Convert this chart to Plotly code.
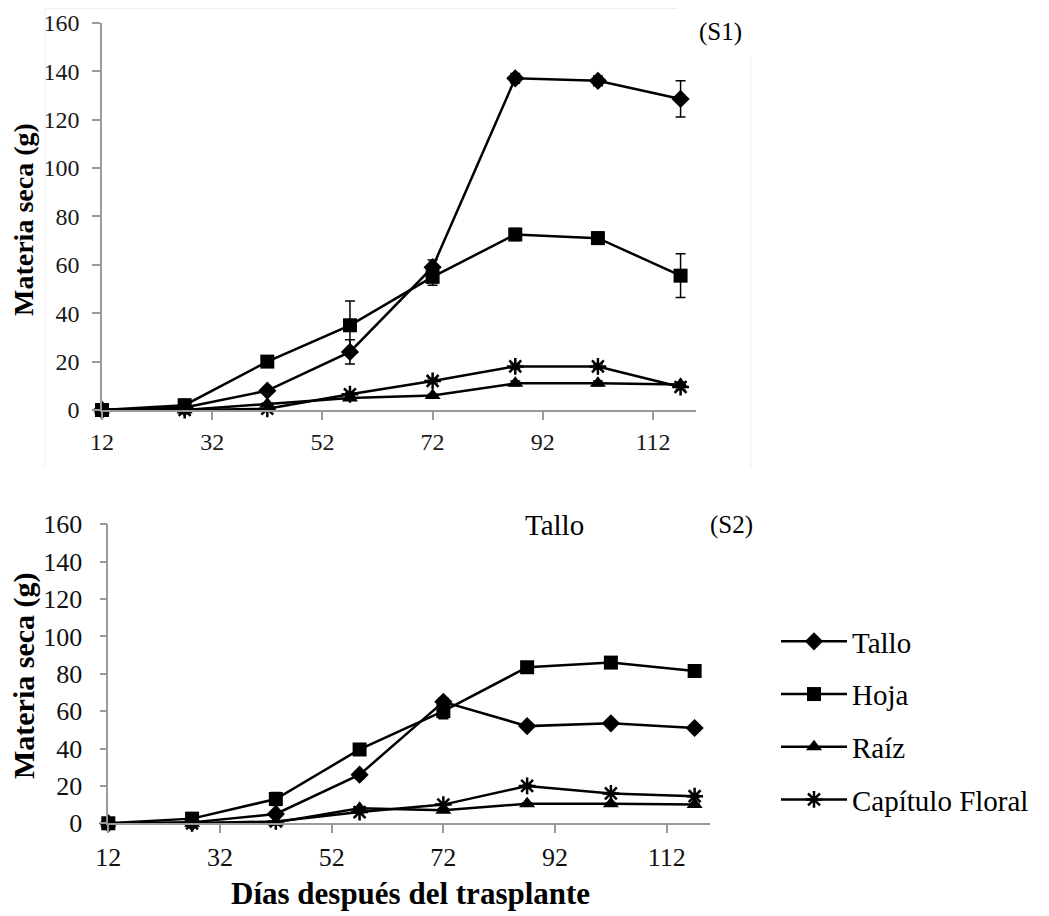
import plotly.graph_objects as go

# ---------------- data ----------------
days = [12, 27, 42, 57, 72, 87, 102, 117]
series_names = ["Tallo", "Hoja", "Raíz", "Capítulo Floral"]

# Panel S1
tallo_s1 = [0, 1, 8, 24, 59, 137, 136, 128.5]
hoja_s1 = [0, 2, 20, 35, 55, 72.5, 71, 55.5]
raiz_s1 = [0, 0, 2.5, 5, 6, 11, 11, 10.5]
capitulo_s1 = [0, 0, 0.5, 6.5, 12, 18, 18, 9.5]
err_tallo_s1 = [0, 0.3, 1, 5, 3, 2, 2, 7.5]
err_hoja_s1 = [0, 0.5, 1, 10, 3.5, 2.5, 2.5, 9]
err_raiz_s1 = [0, 0, 0, 0.5, 0.5, 1, 1, 1]
err_capitulo_s1 = [0, 0, 0, 0.5, 1, 1, 1, 1]

# Panel S2
tallo_s2 = [0, 0.5, 5, 26, 65, 52, 53.5, 51]
hoja_s2 = [0, 2.5, 13, 39.5, 60, 83.5, 86, 81.5]
raiz_s2 = [0, 0, 0.5, 8, 7, 10.5, 10.5, 10]
capitulo_s2 = [0, 0, 1, 6, 10, 20, 16, 14.5]
err_tallo_s2 = [0, 0, 0.5, 2, 2, 1, 1, 1]
err_hoja_s2 = [0, 0, 3.5, 1, 4, 1, 1, 1]
err_raiz_s2 = [0, 0, 0, 0.5, 0.5, 0.5, 0.5, 0.5]
err_capitulo_s2 = [0, 0, 0, 0.5, 0.5, 0.5, 0.5, 0.5]

y_ticks = [0, 20, 40, 60, 80, 100, 120, 140, 160]
x_ticks = [12, 32, 52, 72, 92, 112]

# ---------------- geometry helpers (page has an 8px body margin) ----------------
OFF = 8
W, H = 1041, 908


def px(xw):
    return (xw - OFF) / W


def py(yw):
    return 1 - (yw - OFF) / H


# ---------------- style ----------------
FONT = "Liberation Serif"
symbols = ["diamond", "square", "triangle-up", "asterisk-open"]
msizes = [14, 14, 14, 14]

fig = go.Figure()

panels = [
    ("x", "y", [tallo_s1, hoja_s1, raiz_s1, capitulo_s1],
     [err_tallo_s1, err_hoja_s1, err_raiz_s1, err_capitulo_s1], True),
    ("x2", "y2", [tallo_s2, hoja_s2, raiz_s2, capitulo_s2],
     [err_tallo_s2, err_hoja_s2, err_raiz_s2, err_capitulo_s2], False),
]

for xa, ya, vals, errs, first in panels:
    for i, name in enumerate(series_names):
        fig.add_trace(go.Scatter(
            x=days, y=vals[i], name=name, xaxis=xa, yaxis=ya,
            mode="lines+markers",
            line=dict(color="black", width=2.5),
            marker=dict(symbol=symbols[i], size=msizes[i], color="black",
                        line=dict(color="black", width=2.5 if i == 3 else 0)),
            error_y=dict(type="data", array=errs[i], visible=True,
                         color="black", thickness=1.5, width=5),
            cliponaxis=False,
            showlegend=not first,
            legendgroup=name,
        ))

fig.update_layout(
    template="none",
    width=W, height=H,
    paper_bgcolor="white", plot_bgcolor="white",
    margin=dict(l=0, r=0, t=0, b=0, autoexpand=False),
    font=dict(family=FONT, color="black", size=24),
    xaxis=dict(domain=[px(102), px(696)], range=[12, 119.8],
               tickvals=x_ticks, anchor="y"),
    yaxis=dict(domain=[py(410), py(22.7)], range=[0, 160],
               tickvals=y_ticks, anchor="x"),
    xaxis2=dict(domain=[px(108.3), px(710)], range=[12, 119.75],
                tickvals=x_ticks, anchor="y2"),
    yaxis2=dict(domain=[py(823.3), py(524.3)], range=[0, 160],
                tickvals=y_ticks, anchor="x2"),
    legend=dict(
        x=px(776), xanchor="left", y=py(616), yanchor="top",
        font=dict(family=FONT, size=29, color="black"),
        bgcolor="rgba(0,0,0,0)", tracegroupgap=12, itemwidth=66,
    ),
    showlegend=True,
)

axis_common = dict(
    showgrid=False, zeroline=False, showline=True, automargin=False,
    linecolor="#9a9a9a", linewidth=1.5,
    ticks="outside", ticklen=8, tickcolor="#9a9a9a", tickwidth=1.5,
)
fig.update_xaxes(**axis_common)
fig.update_yaxes(**axis_common)
fig.update_layout(
    xaxis_tickfont=dict(family=FONT, size=24, color="#1a1a1a"),
    yaxis_tickfont=dict(family=FONT, size=24, color="#1a1a1a"),
    xaxis2_tickfont=dict(family=FONT, size=26, color="#111111"),
    yaxis2_tickfont=dict(family=FONT, size=26, color="#111111"),
    xaxis_ticklabelstandoff=1,
    yaxis_ticklabelstandoff=8,
    xaxis2_ticklabelstandoff=2,
    yaxis2_ticklabelstandoff=12,
    yaxis2_ticklen=7,
)

annotations = [
    dict(text="<b>Materia seca (g)</b>", x=px(23), y=py(220),
         textangle=-90, font=dict(size=28)),
    dict(text="<b>Materia seca (g)</b>", x=px(24), y=py(676),
         textangle=-90, font=dict(size=30)),
    dict(text="<b>Días después del trasplante</b>", x=px(410), y=py(893),
         font=dict(size=31)),
    dict(text="(S1)", x=px(720), y=py(32), font=dict(size=25)),
    dict(text="(S2)", x=px(731), y=py(525), font=dict(size=25)),
    dict(text="Tallo", x=px(554), y=py(525), font=dict(size=29)),
]
for a in annotations:
    a.update(xref="paper", yref="paper", showarrow=False,
             xanchor="center", yanchor="middle")
    a["font"].update(family=FONT, color="black")
fig.update_layout(annotations=annotations)

# faint frame around upper chart (as in reference)
frame_col = "#efefef"
fig.add_shape(type="line", xref="paper", yref="paper",
              x0=px(45), x1=px(677), y0=py(8.5), y1=py(8.5),
              line=dict(color=frame_col, width=1))
fig.add_shape(type="line", xref="paper", yref="paper",
              x0=px(45), x1=px(45), y0=py(8.5), y1=py(468),
              line=dict(color=frame_col, width=1))
fig.add_shape(type="line", xref="paper", yref="paper",
              x0=px(751), x1=px(751), y0=py(57), y1=py(468),
              line=dict(color=frame_col, width=1))

fig.write_html("out.html")
